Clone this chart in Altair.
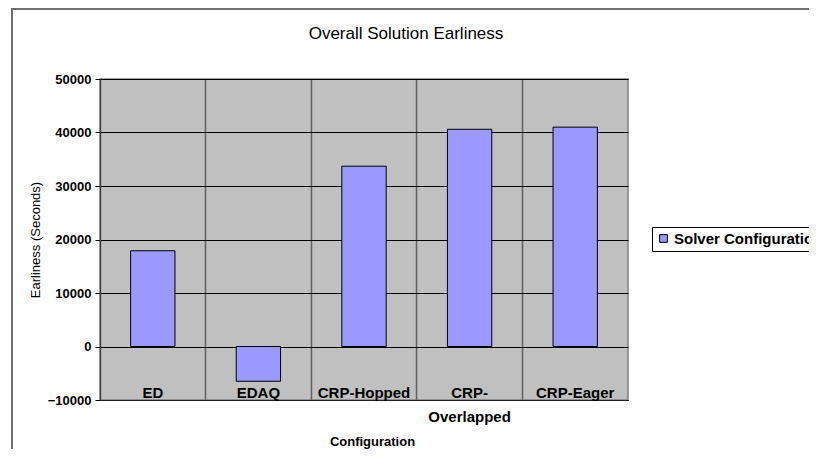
import altair as alt
import pandas as pd

categories = ["ED", "EDAQ", "CRP-Hopped", "CRP-Overlapped", "CRP-Eager"]
labels = ["ED", "EDAQ", "CRP-Hopped", "CRP-\nOverlapped", "CRP-Eager"]
values = [17900, -6500, 33700, 40600, 41000]
series = "Solver Configuration"
y_ticks = [-10000, 0, 10000, 20000, 30000, 40000, 50000]

df = pd.DataFrame({"config": categories, "label": labels, "value": values,
                   "series": [series] * len(categories)})

FONT = "Liberation Sans"
W, H = 528, 321

xenc = alt.X("config:N", sort=categories,
             scale=alt.Scale(paddingInner=0, paddingOuter=0),
             axis=alt.Axis(title="Configuration", labels=False, ticks=False,
                           grid=True, bandPosition=0, gridColor="#606060",
                           gridWidth=1.5, domainColor="#202020", domainWidth=1,
                           titleFont=FONT, titleFontSize=13, titleFontWeight="bold",
                           titleColor="black", titlePadding=35, titleX=W / 2 + 8))
yenc = alt.Y("value:Q",
             scale=alt.Scale(domain=[-10000, 50000], nice=False),
             axis=alt.Axis(title="Earliness (Seconds)", values=y_ticks, format="d",
                           grid=True, gridColor="black", gridWidth=1,
                           tickColor="black", tickSize=5, domainColor="#404040",
                           labelFont=FONT, labelFontSize=13, labelFontWeight="bold",
                           labelColor="black", labelPadding=4,
                           titleFont=FONT, titleFontSize=13, titleFontWeight="normal",
                           titleColor="black", titlePadding=5))

frame = alt.Chart(pd.DataFrame({"k": [0]})).mark_rect(
    filled=False, stroke="#707070", strokeWidth=2, clip=False
).encode(x=alt.value(-88), x2=alt.value(760), y=alt.value(-70), y2=alt.value(430))

bars = alt.Chart(df).mark_bar(
    stroke="black", strokeWidth=1, width=alt.RelativeBandSize(0.42)
).encode(
    x=xenc, y=yenc,
    color=alt.Color("series:N", scale=alt.Scale(range=["#9999FF"]),
                    legend=alt.Legend(title=None, orient="none", legendX=552, legendY=148,
                                      strokeColor="black", fillColor="white",
                                      padding=4, symbolType="square", symbolSize=60,
                                      symbolStrokeColor="black", symbolStrokeWidth=1,
                                      labelOffset=3,
                                      labelFont=FONT, labelFontSize=15,
                                      labelFontWeight="bold", labelColor="black",
                                      labelLimit=300))
)

text = alt.Chart(df).mark_text(
    baseline="alphabetic", align="center", dy=-2, font=FONT, fontSize=15,
    fontWeight="bold", color="black", lineBreak="\n", lineHeight=24
).encode(x=alt.X("config:N", sort=categories), y=alt.datum(-10000), text="label:N")

chart = alt.layer(frame, bars, text).properties(
    width=W, height=H,
    title=alt.TitleParams("Overall Solution Earliness", font=FONT, fontSize=17,
                          fontWeight="normal", color="black", anchor="middle",
                          frame="group", dx=42, offset=0, dy=48, baseline="alphabetic"),
    autosize=alt.AutoSizeParams(type="none"),
    padding={"left": 92, "top": 71, "right": 181, "bottom": 49},
    background="white",
).configure_view(fill="#C0C0C0", stroke="#808080", strokeWidth=1.5)

chart.save("out.html", embed_options={"renderer": "svg", "actions": False})
